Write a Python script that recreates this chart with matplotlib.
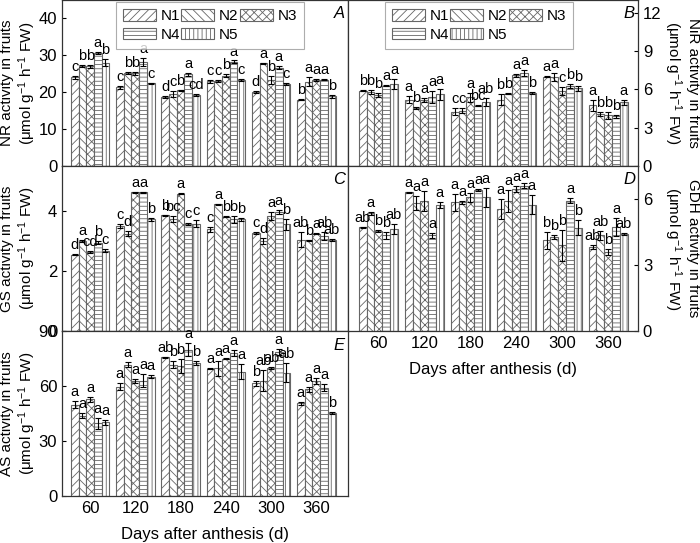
import numpy as np
import matplotlib
matplotlib.use("Agg")
import matplotlib.pyplot as plt

plt.rcParams['font.family'] = ['Liberation Sans', 'DejaVu Sans']
plt.rcParams['mathtext.fontset'] = 'custom'
plt.rcParams['mathtext.rm'] = 'Liberation Sans'
plt.rcParams['mathtext.it'] = 'Liberation Sans:italic'
plt.rcParams['hatch.linewidth'] = 0.6

days = ['60', '120', '180', '240', '300', '360']
treatments = ['N1', 'N2', 'N3', 'N4', 'N5']
hatches = ['////', '\\\\\\\\', 'xxxx', '----', '||||']

# rows = days, columns = N1..N5
nr_mean = [[24.0, 27.1, 27.0, 30.7, 28.0],
           [21.3, 25.2, 25.1, 28.2, 22.4],
           [18.7, 19.5, 20.5, 24.9, 19.2],
           [23.0, 23.0, 24.5, 28.2, 23.3],
           [20.0, 27.8, 23.3, 26.6, 22.2],
           [18.0, 22.8, 23.3, 23.4, 18.9]]
nr_err = [[0.5, 0.3, 0.4, 0.3, 1.0],
          [0.5, 0.3, 0.5, 1.2, 0.2],
          [0.2, 0.8, 0.2, 0.4, 0.2],
          [0.4, 0.2, 0.4, 0.4, 0.3],
          [0.2, 0.2, 1.2, 0.4, 0.3],
          [0.2, 1.2, 0.2, 0.2, 0.4]]
nr_sig = [['c', 'b', 'b', 'a', 'b'],
          ['c', 'b', 'b', 'a', 'c'],
          ['d', 'c', 'b', 'a', 'cd'],
          ['c', 'c', 'b', 'a', 'c'],
          ['d', 'a', 'b', 'a', 'c'],
          ['b', 'a', 'a', 'a', 'b']]

nir_mean = [[5.9, 5.77, 5.56, 6.3, 6.4],
            [5.2, 4.55, 5.2, 5.4, 5.6],
            [4.26, 4.34, 5.4, 4.73, 5.0],
            [5.2, 5.66, 7.1, 7.28, 5.7],
            [7.0, 6.96, 5.87, 6.26, 6.1],
            [4.75, 4.05, 3.96, 3.88, 5.0]]
nir_err = [[0.05, 0.15, 0.15, 0.05, 0.4],
           [0.3, 0.05, 0.15, 0.45, 0.4],
           [0.3, 0.2, 0.35, 0.05, 0.3],
           [0.45, 0.03, 0.12, 0.25, 0.1],
           [0.03, 0.3, 0.3, 0.15, 0.2],
           [0.45, 0.15, 0.3, 0.12, 0.2]]
nir_sig = [['b', 'b', 'b', 'a', 'a'],
           ['a', 'b', 'a', 'a', 'a'],
           ['c', 'c', 'a', 'bc', 'ab'],
           ['b', 'b', 'a', 'a', 'b'],
           ['a', 'a', 'c', 'b', 'b'],
           ['a', 'b', 'b', 'b', 'a']]

gs_mean = [[2.55, 3.0, 2.63, 2.95, 2.68],
           [3.5, 3.25, 4.62, 4.63, 3.73],
           [3.86, 3.72, 4.58, 3.56, 3.58],
           [3.39, 4.22, 3.81, 3.72, 3.72],
           [3.27, 3.0, 3.83, 3.97, 3.56],
           [3.05, 3.03, 3.25, 3.17, 3.03]]
gs_err = [[0.01, 0.04, 0.03, 0.05, 0.05],
          [0.08, 0.08, 0.01, 0.02, 0.05],
          [0.02, 0.1, 0.02, 0.04, 0.12],
          [0.08, 0.02, 0.02, 0.12, 0.05],
          [0.02, 0.1, 0.13, 0.08, 0.18],
          [0.25, 0.02, 0.02, 0.12, 0.03]]
gs_sig = [['d', 'a', 'cd', 'b', 'c'],
          ['c', 'd', 'a', 'a', 'b'],
          ['b', 'bc', 'a', 'c', 'c'],
          ['c', 'a', 'b', 'b', 'b'],
          ['c', 'd', 'a', 'a', 'b'],
          ['ab', 'b', 'a', 'ab', 'ab']]

gdh_mean = [[4.72, 5.35, 4.53, 4.35, 4.65],
            [6.3, 5.82, 5.9, 4.35, 5.73],
            [5.85, 5.85, 6.07, 6.42, 6.07],
            [5.55, 5.9, 6.45, 6.6, 5.75],
            [4.12, 4.27, 3.9, 5.92, 4.7],
            [3.82, 4.35, 3.6, 4.72, 4.42]]
gdh_err = [[0.03, 0.08, 0.05, 0.15, 0.22],
           [0.03, 0.3, 0.45, 0.12, 0.12],
           [0.4, 0.08, 0.2, 0.05, 0.45],
           [0.45, 0.5, 0.15, 0.12, 0.45],
           [0.4, 0.1, 0.7, 0.12, 0.35],
           [0.1, 0.2, 0.15, 0.4, 0.04]]
gdh_sig = [['ab', 'a', 'b', 'b', 'ab'],
           ['a', 'a', 'a', 'a', 'a'],
           ['a', 'a', 'a', 'a', 'a'],
           ['a', 'a', 'a', 'a', 'a'],
           ['b', 'b', 'b', 'a', 'b'],
           ['ab', 'ab', 'b', 'a', 'ab']]

as_mean = [[49.9, 43.9, 52.7, 39.8, 40.2],
           [59.6, 71.6, 62.8, 62.8, 65.1],
           [75.6, 71.6, 71.0, 79.8, 72.5],
           [69.5, 69.7, 75.0, 78.0, 67.9],
           [61.5, 63.0, 69.7, 78.5, 67.3],
           [50.5, 58.2, 62.8, 59.1, 45.5]]
as_err = [[2.0, 1.2, 1.2, 3.0, 1.5],
          [2.0, 1.5, 1.0, 3.5, 1.0],
          [0.3, 2.0, 4.0, 3.5, 1.0],
          [0.3, 4.0, 0.3, 1.5, 4.0],
          [1.5, 5.5, 0.5, 1.5, 5.0],
          [0.8, 1.5, 1.5, 2.0, 0.5]]
as_sig = [['a', 'a', 'a', 'a', 'a'],
          ['a', 'a', 'a', 'a', 'a'],
          ['ab', 'b', 'b', 'a', 'b'],
          ['a', 'a', 'a', 'a', 'a'],
          ['b', 'ab', 'ab', 'a', 'ab'],
          ['a', 'a', 'a', 'a', 'b']]

unit = '(μmol g$^{-1}$ h$^{-1}$ FW)'
W, H = 700, 543
fig = plt.figure(figsize=(7, 5.43), dpi=100)


def px_axes(x0, y0, x1, y1):
    return fig.add_axes([x0 / W, 1 - y1 / H, (x1 - x0) / W, (y1 - y0) / H])


def draw_panel(ax, mean, err, sig, ymax, yticks, ylabel, letter, right=False,
               xlabels=False, legend=None):
    mean = np.array(mean)
    err = np.array(err)
    w = 0.17
    x = np.arange(len(days))
    off = 0.012 * ymax
    for j in range(5):
        xs = x + (j - 2) * w
        ax.bar(xs, mean[:, j], w, color='white', edgecolor='#666666',
               linewidth=0.8, hatch=hatches[j], label=treatments[j], zorder=2)
        ax.errorbar(xs, mean[:, j], yerr=err[:, j], fmt='none', ecolor='black',
                    elinewidth=0.8, capsize=2.2, capthick=0.8, zorder=3)
        for i in range(len(days)):
            ax.text(xs[i], mean[i, j] + err[i, j] + off, sig[i][j],
                    ha='center', va='bottom', fontsize=10.5, zorder=4)
    ax.set_ylim(0, ymax)
    ax.set_yticks(yticks)
    ax.set_xticks(x)
    if right:
        ax.set_xlim(-0.66, 5.65)
        ax.yaxis.tick_right()
        ax.yaxis.set_label_position('right')
        ax.set_ylabel(ylabel, fontsize=11, rotation=270, va='bottom',
                      linespacing=1.15)
        ax.yaxis.set_label_coords((662 - 348) / 290, 0.5)
    else:
        ax.set_xlim(-0.62, 5.7)
        ax.set_ylabel(ylabel, fontsize=11, linespacing=1.15)
        ax.yaxis.set_label_coords((38 - 62) / 286, 0.5)
    ax.tick_params(direction='in', length=3, labelsize=12, width=0.8)
    if xlabels:
        ax.set_xticklabels(days)
        ax.set_xlabel('Days after anthesis (d)', fontsize=12, labelpad=8)
    else:
        ax.set_xticklabels([])
    for s in ax.spines.values():
        s.set_linewidth(0.9)
        s.set_color('#333333')
    ax.text(1 - 9 / ax.bbox.width, 1 - 14 / ax.bbox.height, letter,
            transform=ax.transAxes, ha='center', va='center', style='italic',
            fontsize=12)
    if legend is not None:
        h, l = ax.get_legend_handles_labels()
        order = [0, 3, 1, 4, 2]  # fill rows: N1 N2 N3 / N4 N5
        leg = ax.legend([h[k] for k in order], [l[k] for k in order],
                        ncol=3, loc='upper left', bbox_to_anchor=legend,
                        fontsize=11, handlelength=2.15, handleheight=0.75,
                        handletextpad=0.3, columnspacing=0.1, labelspacing=0.3,
                        borderpad=0.45, borderaxespad=0, frameon=True,
                        fancybox=False)
        leg.get_frame().set_edgecolor('#999999')
        leg.get_frame().set_linewidth(0.8)


ax_a = px_axes(62, 0, 348, 166)
ax_b = px_axes(348, 0, 638, 166)
ax_c = px_axes(62, 166, 348, 331)
ax_d = px_axes(348, 166, 638, 331)
ax_e = px_axes(62, 331, 348, 496)

draw_panel(ax_a, nr_mean, nr_err, nr_sig, 45, [0, 10, 20, 30, 40],
           'NR activity in fruits\n' + unit, 'A', legend=(0.189, 0.985))
draw_panel(ax_b, nir_mean, nir_err, nir_sig, 13, [0, 3, 6, 9, 12],
           'NiR activity in fruits\n' + unit, 'B', right=True,
           legend=(0.128, 0.985))
draw_panel(ax_c, gs_mean, gs_err, gs_sig, 5.5, [0, 2, 4],
           'GS activity in fruits\n' + unit, 'C')
draw_panel(ax_d, gdh_mean, gdh_err, gdh_sig, 7.5, [0, 3, 6],
           'GDH activity in fruits\n' + unit, 'D', right=True, xlabels=True)
draw_panel(ax_e, as_mean, as_err, as_sig, 90, [0, 30, 60, 90],
           'AS activity in fruits\n' + unit, 'E', xlabels=True)

fig.savefig('out.png', dpi=100)
